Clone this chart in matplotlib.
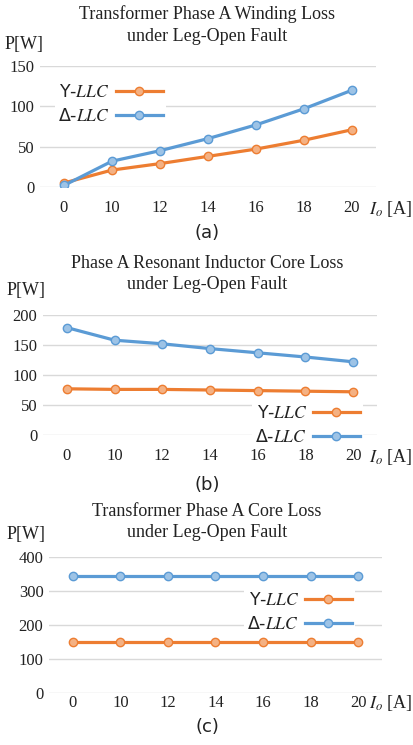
import matplotlib
matplotlib.use("Agg")
import matplotlib.pyplot as plt
from matplotlib.lines import Line2D

plt.rcParams["font.family"] = ["Liberation Serif", "DejaVu Serif"]
plt.rcParams["mathtext.fontset"] = "stix"

currents = ["0", "10", "12", "14", "16", "18", "20"]

winding_y = [5, 21, 29, 38, 47, 58, 71]
winding_delta = [2, 32, 45, 60, 77, 97, 120]

inductor_y = [77, 76, 76, 75, 74, 73, 72]
inductor_delta = [179, 158, 152, 144, 137, 130, 122]

core_y = [150, 150, 150, 150, 150, 150, 150]
core_delta = [343, 343, 343, 343, 343, 343, 343]

titles = [
    "Transformer Phase A Winding Loss\nunder Leg-Open Fault",
    "Phase A Resonant Inductor Core Loss\nunder Leg-Open Fault",
    "Transformer Phase A Core Loss\nunder Leg-Open Fault",
]
captions = ["(a)", "(b)", "(c)"]
yticks = [[0, 50, 100, 150], [0, 50, 100, 150, 200], [0, 100, 200, 300, 400]]

ORANGE = "#ED7D31"
ORANGE_FACE = "#F4B183"
BLUE = "#5B9BD5"
BLUE_FACE = "#9DC3E6"
GRID = "#D9D9D9"
TXT = "#222222"

W, H = 414, 745
fig = plt.figure(figsize=(W / 100, H / 100), dpi=100)


def px(x0, y_top, width, height):
    return [x0 / W, 1 - (y_top + height) / H, width / W, height / H]


# axes rect (left, top, width, height) in pixels, text positions, legend anchor
panels = [
    dict(rect=(40, 66, 336, 121), series=(winding_y, winding_delta), title_y=25, ylab=(5, 44),
         cap_y=233, xl_y=209, xpad=9.5, leg=(46, 104), leg_loc="center left"),
    dict(rect=(43, 315, 334, 120), series=(inductor_y, inductor_delta), title_y=274, ylab=(7, 290),
         cap_y=485, xl_y=457, xpad=9.5, leg=(372, 425), leg_loc="center right"),
    dict(rect=(49, 557, 333, 136), series=(core_y, core_delta), title_y=522, ylab=(7, 535),
         cap_y=727, xl_y=703, xpad=1.5, leg=(364, 612), leg_loc="center right"),
]

for i, p in enumerate(panels):
    ax = fig.add_axes(px(*p["rect"]))
    ys, yd = p["series"]
    x = range(len(currents))
    ax.plot(x, ys, color=ORANGE, lw=2.3, marker="o", ms=6, mfc=ORANGE_FACE, mec=ORANGE, mew=1.0, zorder=3)
    ax.plot(x, yd, color=BLUE, lw=2.3, marker="o", ms=6, mfc=BLUE_FACE, mec=BLUE, mew=1.0, zorder=3)
    ax.set_xlim(-0.5, len(currents) - 0.5)
    ax.set_ylim(yticks[i][0], yticks[i][-1])
    ax.set_yticks(yticks[i])
    ax.set_xticks(list(x))
    ax.set_xticklabels(currents)
    for s in ax.spines.values():
        s.set_visible(False)
    ax.grid(axis="y", color=GRID, lw=1.0, zorder=0)
    ax.tick_params(length=0, labelsize=12, labelcolor=TXT)
    ax.tick_params(axis="y", pad=4)
    ax.tick_params(axis="x", pad=p["xpad"])

    handles = [
        Line2D([], [], color=ORANGE, lw=2.3, marker="o", ms=6, mfc=ORANGE_FACE, mec=ORANGE),
        Line2D([], [], color=BLUE, lw=2.3, marker="o", ms=6, mfc=BLUE_FACE, mec=BLUE),
    ]
    leg = ax.legend(handles, ["Y-$LLC$", "Δ-$LLC$"], loc=p["leg_loc"],
                    bbox_to_anchor=(p["leg"][0] / W, 1 - p["leg"][1] / H),
                    bbox_transform=fig.transFigure, frameon=True, fancybox=False,
                    edgecolor="none", facecolor="white", framealpha=1.0,
                    prop={"family": "DejaVu Sans", "size": 12.5},
                    handlelength=2.7, handletextpad=0.35,
                    labelspacing=0.3, borderpad=0.2, markerfirst=False)
    for t in leg.get_texts():
        t.set_color(TXT)
    leg.set_zorder(5)

    fig.text(0.5, 1 - p["title_y"] / H, titles[i], ha="center", va="center",
             fontsize=13, color=TXT, linespacing=1.35)
    fig.text(p["ylab"][0] / W, 1 - p["ylab"][1] / H, "P[W]", ha="left", va="center",
             fontsize=13, color=TXT)
    fig.text(1 - 2 / W, 1 - p["xl_y"] / H, "$I_o$ [A]", ha="right", va="center",
             fontsize=13, color=TXT)
    fig.text(0.5, 1 - p["cap_y"] / H, captions[i], ha="center", va="center",
             fontsize=13, family="DejaVu Sans", color=TXT)

fig.savefig("out.png", dpi=100)
